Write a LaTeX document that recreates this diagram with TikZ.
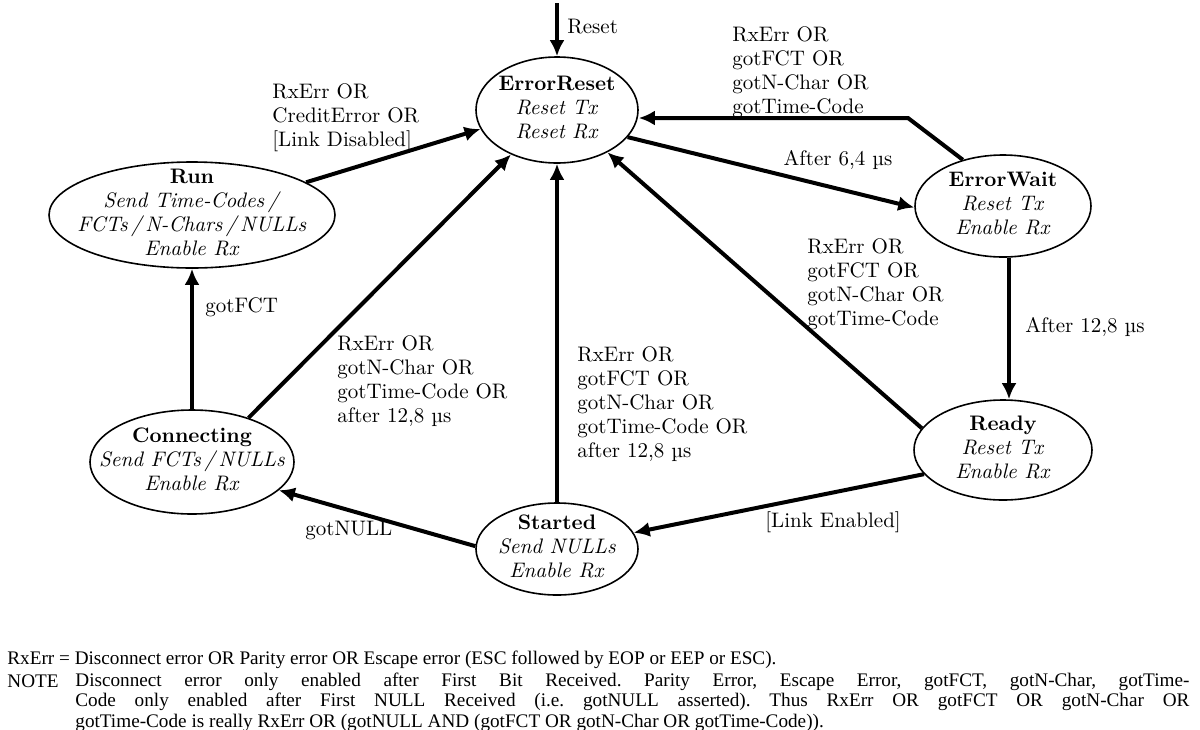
\documentclass[tikz,border=0pt]{standalone}
\usepackage{fontspec}
\newfontfamily\notefont{Liberation Serif}
\usetikzlibrary{arrows.meta,shapes.geometric}
\frenchspacing
% state text without size, so the ellipse keeps its given size
\newcommand{\sttext}[1]{\raisebox{-5pt}{\smash{\makebox[0pt]{\begin{tabular}{@{}c@{}}#1\end{tabular}}}}}

\begin{document}
\begin{tikzpicture}[x=0.5pt,y=-0.5pt,
    state/.style={ellipse,draw,line width=0.8pt,inner sep=0pt,font=\fontsize{10.5}{12}\selectfont},
    trans/.style={line width=2pt,-{Latex[length=8pt,width=7.5pt]}},
    lbl/.style={inner sep=0pt,align=left,anchor=north west,font=\fontsize{10.5}{12}\selectfont},
    note/.style={inner sep=0pt,font=\notefont\fontsize{9.6}{10.25}\selectfont}]
\useasboundingbox (0,0) rectangle (1200,729);

% states
\node[state,minimum width=81pt,minimum height=53pt] (ErrorReset) at (557,110)
    {\sttext{\textbf{ErrorReset}\\\textit{Reset Tx}\\\textit{Reset Rx}}};
\node[state,minimum width=88pt,minimum height=51pt] (ErrorWait) at (1003,206)
    {\sttext{\textbf{ErrorWait}\\\textit{Reset Tx}\\\textit{Enable Rx}}};
\node[state,minimum width=89pt,minimum height=50pt] (Ready) at (1003,450)
    {\sttext{\textbf{Ready}\\\textit{Reset Tx}\\\textit{Enable Rx}}};
\node[state,minimum width=81pt,minimum height=46pt] (Started) at (557,549)
    {\sttext{\textbf{Started}\\\textit{Send NULLs}\\\textit{Enable Rx}}};
\node[state,minimum width=102pt,minimum height=52pt] (Connecting) at (192,462)
    {\sttext{\textbf{Connecting}\\\textit{Send FCTs\,/\,NULLs}\\\textit{Enable Rx}}};
\node[state,minimum width=143pt,minimum height=53pt] (Run) at (192,215)
    {\sttext{\textbf{Run}\\\textit{Send Time-Codes\,/}\\\textit{FCTs\,/\,N-Chars\,/\,NULLs}\\\textit{Enable Rx}}};

% transitions
\coordinate (resetin) at (557,3);
\coordinate (bend) at (908,118);
\draw[trans] (resetin) -- (ErrorReset.north);
\draw[trans] (Run.16) -- (ErrorReset.194);
\draw[trans] (ErrorWait.131) -- (bend) -- (bend -| ErrorReset.east);
\draw[trans] (ErrorReset.339) -- (ErrorWait.181);
\draw[trans] (ErrorWait.south -| 1009,0) -- (Ready.north -| 1009,0);
\draw[trans] (Ready.165) -- (ErrorReset.320);
\draw[trans] (Ready.197) -- (Started.12);
\draw[trans] (Started.north) -- (ErrorReset.south);
\draw[trans] (Started.178) -- (Connecting.342);
\draw[trans] (Connecting.38) -- (ErrorReset.224);
\draw[trans] (Connecting.north) -- (Run.south);

% labels
\node[lbl,anchor=west] (lreset) at (567,27) {Reset};
\node[lbl] (lrun) at (272,83) {RxErr OR\\CreditError OR\\[0pt][Link Disabled]};
\node[lbl] (lwait) at (732,26) {RxErr OR\\gotFCT OR\\gotN-Char OR\\gotTime-Code};
\node[lbl,anchor=center] (lsix) at (838,160) {After 6,4 µs};
\node[lbl,anchor=west] (ltwelve) at (1025,327) {After 12,8 µs};
\node[lbl] (lready) at (807,238) {RxErr OR\\gotFCT OR\\gotN-Char OR\\gotTime-Code};
\node[lbl] (lconn) at (337,335) {RxErr OR\\gotN-Char OR\\gotTime-Code OR\\after 12,8 µs};
\node[lbl] (lstart) at (577,346) {RxErr OR\\gotFCT OR\\gotN-Char OR\\gotTime-Code OR\\after 12,8 µs};
\node[lbl,anchor=west] (lfct) at (205,307) {gotFCT};
\node[lbl,anchor=west] (lnull) at (305,530) {gotNULL};
\node[lbl,anchor=west] (lenab) at (765,522) {[Link Enabled]};

% footnote
\node[note,anchor=west] (rxdef) at (7,660)
    {RxErr = Disconnect error OR Parity error OR Escape error (ESC followed by EOP or EEP or ESC).};
\node[note,anchor=west] (notehd) at (7,681) {NOTE};
\node[note,anchor=west,align=left] (notebody) at (75,702)
    {\makebox[557pt][s]{Disconnect error only enabled after First Bit Received. Parity Error, Escape Error, gotFCT, gotN-Char, gotTime-}\\
     \makebox[557pt][s]{Code only enabled after First NULL Received (i.e. gotNULL asserted). Thus RxErr OR gotFCT OR gotN-Char OR}\\
     gotTime-Code is really RxErr OR (gotNULL AND (gotFCT OR gotN-Char OR gotTime-Code)).};
\end{tikzpicture}
\end{document}
